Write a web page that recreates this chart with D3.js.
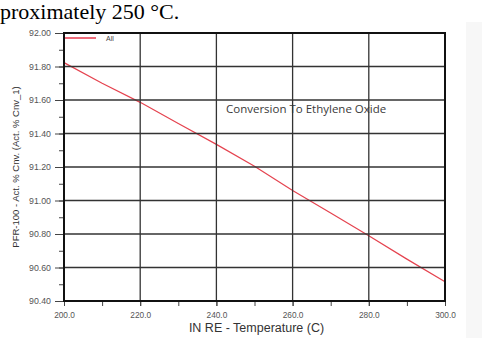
<!DOCTYPE html>
<html>
<head>
<meta charset="utf-8">
<script src="https://cdn.jsdelivr.net/npm/d3@7"></script>
<style>
  body { margin: 0; background: #fff; }
  svg { display: block; }
</style>
</head>
<body>
<div id="chart"></div>
<script>
// data
const temps = [200, 210, 220, 230, 240, 250, 260, 270, 280, 290, 300];
const conversion = [91.823, 91.70, 91.586, 91.46, 91.335, 91.205, 91.06, 90.925, 90.79, 90.65, 90.515];
const xTicks = [200, 220, 240, 260, 280, 300];
const yTicks = [90.4, 90.6, 90.8, 91.0, 91.2, 91.4, 91.6, 91.8, 92.0];
const seriesName = "All";

const width = 482, height = 338;
const margin = { top: 33, right: 37, bottom: 37, left: 64 };

const svg = d3.select("#chart")
    .append("svg")
    .attr("width", width)
    .attr("height", height);

// caption text from the page above the figure
svg.append("text")
    .attr("x", 0)
    .attr("y", 19)
    .attr("font-family", "Liberation Serif, Times New Roman, serif")
    .attr("font-size", 22)
    .attr("fill", "#000")
    .text("proximately 250 °C.");

// grey side panel
svg.append("rect")
    .attr("x", 466).attr("y", 22)
    .attr("width", 16).attr("height", 316)
    .attr("fill", "#f7f7f7");

const x = d3.scaleLinear()
    .domain([200, 300])
    .range([margin.left, width - margin.right]);

const y = d3.scaleLinear()
    .domain([90.4, 92.0])
    .range([height - margin.bottom, margin.top]);

const x0 = x.range()[0], x1 = x.range()[1];
const yb = y.range()[0], yt = y.range()[1];

// line
const line = d3.line()
    .x((d, i) => x(temps[i]))
    .y(d => y(d));

svg.append("path")
    .datum(conversion)
    .attr("d", line)
    .attr("fill", "none")
    .attr("stroke", "#e5434f")
    .attr("stroke-width", 1.2);

// annotation
svg.append("text")
    .attr("x", 226)
    .attr("y", 113)
    .attr("font-family", "Open Sans, DejaVu Sans, sans-serif")
    .attr("font-size", 11.5)
    .attr("fill", "#3a3a3a")
    .text("Conversion To Ethylene Oxide");

// grid (drawn over line + text like the original)
svg.append("g")
    .selectAll("line.gx")
    .data(xTicks.slice(1, -1))
    .join("line")
    .attr("x1", d => x(d)).attr("x2", d => x(d))
    .attr("y1", yt).attr("y2", yb)
    .attr("stroke", "#333")
    .attr("stroke-width", 1.3);

svg.append("g")
    .selectAll("line.gy")
    .data(yTicks.slice(1, -1))
    .join("line")
    .attr("x1", x0).attr("x2", x1)
    .attr("y1", d => y(d)).attr("y2", d => y(d))
    .attr("stroke", "#333")
    .attr("stroke-width", 1.3);

// axes with minor ticks
const xMinor = d3.range(200, 301, 10);
const yMinor = d3.range(0, 17).map(i => 90.4 + i * 0.1);

svg.append("g")
    .attr("transform", `translate(0,${yb})`)
    .call(d3.axisBottom(x).tickValues(xMinor).tickFormat("").tickSize(5))
    .call(g => g.select(".domain").remove())
    .call(g => g.selectAll("line").attr("stroke", "#444"));

svg.append("g")
    .attr("transform", `translate(0,${yb})`)
    .call(d3.axisBottom(x).tickValues(xTicks).tickFormat(d3.format(".1f")).tickSize(5).tickPadding(6))
    .call(g => g.select(".domain").remove())
    .call(g => g.selectAll("line").attr("stroke", "#444"))
    .call(g => g.selectAll("text")
        .attr("font-family", "Liberation Sans, Arial, sans-serif")
        .attr("font-size", 8.3)
        .attr("fill", "#555"));

svg.append("g")
    .attr("transform", `translate(${x0},0)`)
    .call(d3.axisLeft(y).tickValues(yMinor).tickFormat("").tickSize(5))
    .call(g => g.select(".domain").remove())
    .call(g => g.selectAll("line").attr("stroke", "#444"));

svg.append("g")
    .attr("transform", `translate(${x0},0)`)
    .call(d3.axisLeft(y).tickValues(yTicks).tickFormat(d3.format(".2f")).tickSize(9).tickPadding(4))
    .call(g => g.select(".domain").remove())
    .call(g => g.selectAll("line").attr("stroke", "#444"))
    .call(g => g.selectAll("text")
        .attr("font-family", "Liberation Sans, Arial, sans-serif")
        .attr("font-size", 8.8)
        .attr("fill", "#555"));

// frame
svg.append("rect")
    .attr("x", x0).attr("y", yt)
    .attr("width", x1 - x0).attr("height", yb - yt)
    .attr("fill", "none")
    .attr("stroke", "#111")
    .attr("stroke-width", 2);

// legend
svg.append("line")
    .attr("x1", x0 + 1).attr("x2", x0 + 32)
    .attr("y1", yt + 5).attr("y2", yt + 5)
    .attr("stroke", "#ee6b7a")
    .attr("stroke-width", 2);

svg.append("text")
    .attr("x", x0 + 42)
    .attr("y", yt + 7.5)
    .attr("font-family", "Liberation Sans, Arial, sans-serif")
    .attr("font-size", 7)
    .attr("fill", "#444")
    .text(seriesName);

// axis titles
svg.append("text")
    .attr("x", (x0 + x1) / 2 + 2)
    .attr("y", 332)
    .attr("text-anchor", "middle")
    .attr("font-family", "Liberation Sans, Arial, sans-serif")
    .attr("font-size", 12.5)
    .attr("fill", "#333")
    .text("IN RE - Temperature (C)");

svg.append("text")
    .attr("transform", `translate(19,${(yt + yb) / 2}) rotate(-90)`)
    .attr("text-anchor", "middle")
    .attr("font-family", "Liberation Sans, Arial, sans-serif")
    .attr("font-size", 9.5)
    .attr("fill", "#333")
    .text("PFR-100 - Act. % Cnv. (Act. % Cnv_1)");
</script>
</body>
</html>
